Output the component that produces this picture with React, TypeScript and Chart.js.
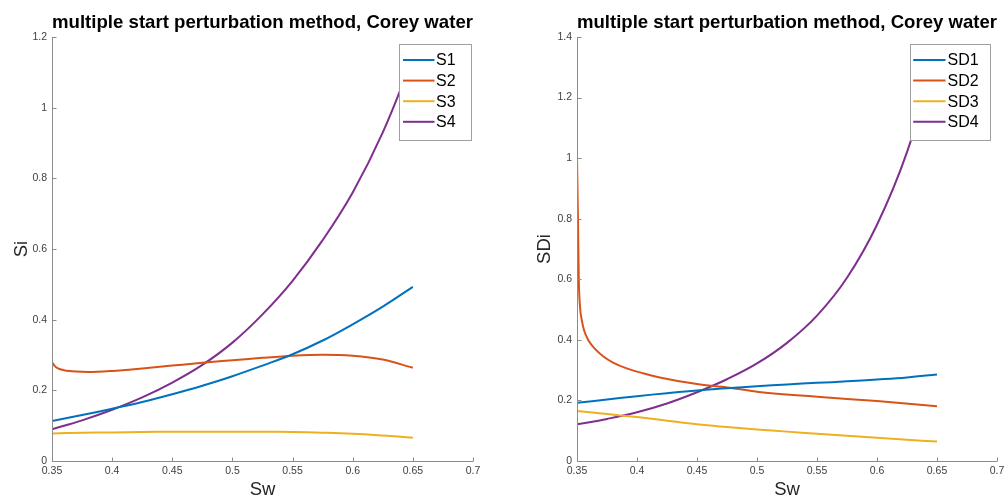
import React, { useEffect, useRef } from "react";
import { Chart, registerables } from "chart.js";

Chart.register(...registerables);

const FONT = "'Liberation Sans', Arial, Helvetica, sans-serif";
const TITLE = "multiple start perturbation method, Corey water";

const xTicks = [0.35, 0.4, 0.45, 0.5, 0.55, 0.6, 0.65, 0.7];
const yTicksLeft = [0, 0.2, 0.4, 0.6, 0.8, 1, 1.2];
const yTicksRight = [0, 0.2, 0.4, 0.6, 0.8, 1, 1.2, 1.4];

const swGrid = [0.35, 0.375, 0.4, 0.425, 0.45, 0.475, 0.5, 0.525, 0.55, 0.575, 0.6, 0.625, 0.65];

const S1 = [0.113, 0.13, 0.148, 0.167, 0.189, 0.213, 0.24, 0.27, 0.302, 0.341, 0.387, 0.437, 0.493];
const S3 = [0.078, 0.08, 0.081, 0.082, 0.083, 0.083, 0.083, 0.083, 0.082, 0.08, 0.077, 0.072, 0.066];
const S4 = [0.09, 0.115, 0.145, 0.18, 0.222, 0.272, 0.335, 0.415, 0.51, 0.625, 0.76, 0.93, 1.14];

const S2x = [0.35, 0.352, 0.355, 0.36, 0.37, 0.38, 0.4, 0.425, 0.45, 0.475, 0.5, 0.525, 0.55, 0.575, 0.6, 0.625, 0.65];
const S2 = [0.28, 0.27, 0.262, 0.257, 0.253, 0.252, 0.255, 0.262, 0.27, 0.278, 0.285, 0.292, 0.298, 0.301, 0.298, 0.287, 0.264];

const SD1 = [0.192, 0.203, 0.214, 0.224, 0.233, 0.24, 0.247, 0.253, 0.258, 0.263, 0.269, 0.276, 0.286];
const SD3 = [0.165, 0.155, 0.145, 0.133, 0.121, 0.112, 0.104, 0.097, 0.09, 0.083, 0.077, 0.07, 0.064];
const SD4 = [0.121, 0.139, 0.161, 0.19, 0.227, 0.27, 0.322, 0.39, 0.48, 0.605, 0.78, 1.02, 1.35];

const SD2x = [0.35, 0.3508, 0.3515, 0.3525, 0.354, 0.356, 0.36, 0.365, 0.372, 0.38, 0.392, 0.405, 0.42, 0.45, 0.475, 0.5, 0.55, 0.6, 0.65];
const SD2 = [1.0, 0.8, 0.6, 0.51, 0.465, 0.43, 0.395, 0.37, 0.345, 0.325, 0.305, 0.29, 0.275, 0.254, 0.243, 0.229, 0.212, 0.198, 0.181];

const COLORS = ["#0072BD", "#D95319", "#EDB120", "#7E2F8E"];

const toPts = (xs: number[], ys: number[]) => xs.map((x, i) => ({ x, y: ys[i] }));

const matlabAxes = {
  id: "matlabAxes",
  afterDatasetsDraw(chart: any, _args: any, opts: any) {
    const ctx = chart.ctx;
    const { left, right, top, bottom } = chart.chartArea;
    const xs = chart.scales.x;
    const ys = chart.scales.y;
    ctx.save();
    ctx.strokeStyle = "#8c8c8c";
    ctx.lineWidth = 1;
    ctx.beginPath();
    const L = Math.round(left) + 0.5;
    const B = Math.round(bottom) + 0.5;
    ctx.moveTo(L, top);
    ctx.lineTo(L, B);
    ctx.lineTo(right, B);
    xs.ticks.forEach((t: any) => {
      const px = Math.round(xs.getPixelForValue(t.value)) + 0.5;
      ctx.moveTo(px, B);
      ctx.lineTo(px, B - 4);
    });
    ys.ticks.forEach((t: any) => {
      const py = Math.round(ys.getPixelForValue(t.value)) + 0.5;
      ctx.moveTo(L, py);
      ctx.lineTo(L + 4, py);
    });
    ctx.stroke();

    // legend box (drawn over the lines, like MATLAB)
    const lg = opts.legend;
    const bx = Math.round(right - lg.rightInset - lg.width) + 0.5;
    const by = Math.round(top + lg.topInset) + 0.5;
    ctx.fillStyle = "#ffffff";
    ctx.fillRect(bx, by, lg.width, lg.height);
    ctx.strokeStyle = "#a0a0a0";
    ctx.strokeRect(bx, by, lg.width, lg.height);
    ctx.font = `16px ${FONT}`;
    ctx.textBaseline = "middle";
    ctx.textAlign = "left";
    chart.data.datasets.forEach((ds: any, i: number) => {
      const yy = by + 15.5 + i * 20.6;
      ctx.strokeStyle = ds.borderColor;
      ctx.lineWidth = 2;
      ctx.beginPath();
      ctx.moveTo(bx + lg.lineStart, yy);
      ctx.lineTo(bx + 35, yy);
      ctx.stroke();
      ctx.fillStyle = "#000000";
      ctx.fillText(ds.label, bx + lg.textStart, yy + 1);
    });
    ctx.restore();
  },
};

function makeConfig(
  datasets: any[],
  yTicks: number[],
  yMax: number,
  yLabel: string,
  yAxisWidth: number,
  yTitlePad: number,
  rightPad: number,
  legend: any
) {
  return {
    type: "line",
    data: { datasets },
    plugins: [matlabAxes],
    options: {
      responsive: false,
      animation: false,
      events: [],
      layout: { padding: { left: 0, right: rightPad, top: 0, bottom: 0 } },
      elements: { point: { radius: 0 }, line: { borderWidth: 2, tension: 0.4 } },
      plugins: {
        legend: { display: false },
        tooltip: { enabled: false },
        title: {
          display: true,
          text: TITLE,
          fullSize: false,
          color: "#000000",
          font: { family: FONT, size: 19, weight: "bold", lineHeight: 1.2 },
          padding: { top: 11, bottom: 3.2 },
        },
        matlabAxes: { legend },
      },
      scales: {
        x: {
          type: "linear",
          min: 0.35,
          max: 0.7,
          afterBuildTicks: (s: any) => {
            s.ticks = xTicks.map((v) => ({ value: v }));
          },
          afterFit: (s: any) => {
            s.height = 37;
          },
          grid: { display: false, drawTicks: false },
          border: { display: false },
          ticks: {
            padding: 4,
            color: "#404040",
            font: { family: FONT, size: 10.5 },
            maxRotation: 0,
            autoSkip: false,
            callback: (v: any) => String(v),
          },
          title: {
            display: true,
            text: "Sw",
            color: "#262626",
            font: { family: FONT, size: 18.5, lineHeight: 0.9 },
            padding: { top: 0, bottom: 0 },
          },
        },
        y: {
          type: "linear",
          min: 0,
          max: yMax,
          afterBuildTicks: (s: any) => {
            s.ticks = yTicks.map((v) => ({ value: v }));
          },
          afterFit: (s: any) => {
            s.width = yAxisWidth;
          },
          grid: { display: false, drawTicks: false },
          border: { display: false },
          ticks: {
            padding: 5,
            color: "#404040",
            font: { family: FONT, size: 10.5 },
            autoSkip: false,
            callback: (v: any) => String(v),
          },
          title: {
            display: true,
            text: yLabel,
            color: "#262626",
            font: { family: FONT, size: 18.5, lineHeight: 1.2 },
            padding: { top: yTitlePad, bottom: 0 },
          },
        },
      },
    },
  };
}

function ds(label: string, pts: any[], color: string, monotone = false) {
  const d: any = { label, data: pts, borderColor: color, backgroundColor: color, fill: false };
  if (monotone) d.cubicInterpolationMode = "monotone";
  return d;
}

function Panel({ left, width, config }: { left: number; width: number; config: () => any }) {
  const ref = useRef<HTMLCanvasElement | null>(null);
  useEffect(() => {
    const chart = new Chart(ref.current as HTMLCanvasElement, config() as any);
    return () => chart.destroy();
  }, []);
  return (
    <div style={{ position: "absolute", left, top: 0, width, height: 498 }}>
      <canvas ref={ref} width={width} height={498} style={{ display: "block" }} />
    </div>
  );
}

export default function App() {
  const leftCfg = () =>
    makeConfig(
      [
        ds("S1", toPts(swGrid, S1), COLORS[0]),
        ds("S2", toPts(S2x, S2), COLORS[1], true),
        ds("S3", toPts(swGrid, S3), COLORS[2]),
        ds("S4", toPts(swGrid, S4), COLORS[3]),
      ],
      yTicksLeft,
      1.2,
      "Si",
      52,
      11,
      29,
      { width: 72, height: 96, rightInset: 2.5, topInset: 7, lineStart: 3.5, textStart: 36.5 }
    );
  const rightCfg = () =>
    makeConfig(
      [
        ds("SD1", toPts(swGrid, SD1), COLORS[0]),
        ds("SD2", toPts(SD2x, SD2), COLORS[1], true),
        ds("SD3", toPts(swGrid, SD3), COLORS[2]),
        ds("SD4", toPts(swGrid, SD4), COLORS[3]),
      ],
      yTicksRight,
      1.4,
      "SDi",
      75,
      32,
      35,
      { width: 80, height: 96, rightInset: 7.5, topInset: 7, lineStart: 2.7, textStart: 37 }
    );
  return (
    <div
      style={{
        position: "fixed",
        left: 0,
        top: 0,
        width: 1004,
        height: 498,
        overflow: "hidden",
        background: "#ffffff",
      }}
    >
      <Panel left={0} width={502} config={leftCfg} />
      <Panel left={502} width={530} config={rightCfg} />
    </div>
  );
}
